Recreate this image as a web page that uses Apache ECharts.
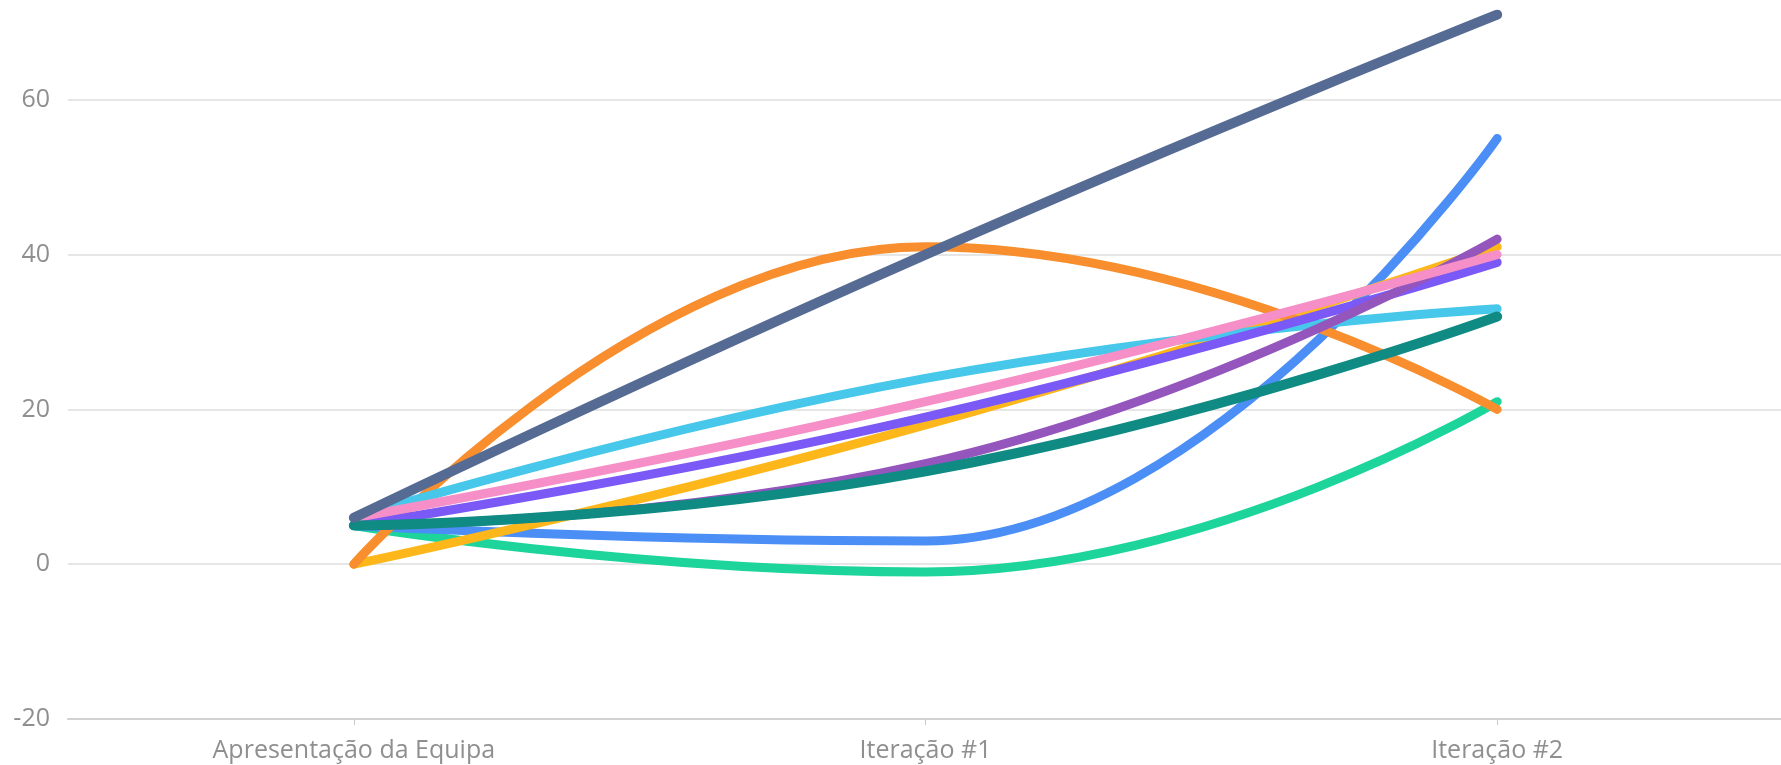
<!DOCTYPE html>
<html>
<head>
<meta charset="utf-8">
<script src="https://cdn.jsdelivr.net/npm/echarts@6/dist/echarts.min.js"></script>
<style>
  html, body { margin: 0; padding: 0; background: #ffffff; }
  #chart { width: 1781px; height: 765px; }
</style>
</head>
<body>
<div id="chart"></div>
<script>
// Eixo das categorias (etapas do projeto)
const categories = ['Apresentação da Equipa', 'Iteração #1', 'Iteração #2'];

// Escala do eixo Y
const yMin = -20;
const yMax = 80;
const yStep = 20;

// Valores de cada série, por etapa
const verde    = [5, -1, 21];
const azul     = [5, 3, 55];
const amarelo  = [0, 18, 41];
const laranja  = [0, 41, 20];
const ciano    = [6, 24, 33];
const violeta  = [5, 19, 39];
const roxo     = [5, 13, 42];
const rosa     = [6, 21, 40];
const petroleo = [5, 12, 32];
const ardosia  = [6, 40, 71];

const labelFont = '"Open Sans", "Noto Sans", sans-serif';

// Ordem de desenho: as últimas ficam por cima
const seriesDefs = [
  { name: 'Verde',    data: verde,    color: '#1dd59b', width: 9, monotone: true },
  { name: 'Azul',     data: azul,     color: '#4a8ef6', width: 9, monotone: true },
  { name: 'Amarelo',  data: amarelo,  color: '#fdb71a', width: 9 },
  { name: 'Laranja',  data: laranja,  color: '#f88e2e', width: 9, monotone: true },
  { name: 'Ciano',    data: ciano,    color: '#47c8ea', width: 9 },
  { name: 'Violeta',  data: violeta,  color: '#7b59f7', width: 9 },
  { name: 'Roxo',     data: roxo,     color: '#9455bd', width: 9 },
  { name: 'Rosa',     data: rosa,     color: '#f68fc8', width: 9 },
  { name: 'Petróleo', data: petroleo, color: '#0f8b84', width: 10 },
  { name: 'Ardósia',  data: ardosia,  color: '#566b93', width: 10 }
];

const chart = echarts.init(document.getElementById('chart'), null, { renderer: 'canvas' });

chart.setOption({
  backgroundColor: '#ffffff',
  animation: false,
  grid: {
    left: 68, right: -2, top: -55, bottom: 46,
    containLabel: false,
    outerBoundsMode: 'none'
  },
  xAxis: {
    type: 'category',
    data: categories,
    boundaryGap: true,
    axisLine: { show: true, onZero: false, lineStyle: { color: '#d2d2d2', width: 2 } },
    axisTick: { show: true, alignWithLabel: true, length: 6, lineStyle: { color: '#c8c8c8', width: 1 } },
    axisLabel: { color: '#8f8f8f', fontSize: 25, fontFamily: labelFont, margin: 19 },
    splitLine: { show: false }
  },
  yAxis: {
    type: 'value',
    min: yMin,
    max: yMax,
    interval: yStep,
    axisLine: { show: false },
    axisTick: { show: false },
    axisLabel: { color: '#8f8f8f', fontSize: 25, fontFamily: labelFont, margin: 18 },
    splitLine: { show: true, lineStyle: { color: '#e6e6e6', width: 2 } }
  },
  series: seriesDefs.map(function (s) {
    return {
      name: s.name,
      type: 'line',
      data: s.data,
      smooth: 0.5,
      smoothMonotone: s.monotone ? 'x' : undefined,
      showSymbol: false,
      symbol: 'none',
      lineStyle: { color: s.color, width: s.width, cap: 'round', join: 'round' },
      itemStyle: { color: s.color },
      emphasis: { disabled: true }
    };
  })
});
</script>
</body>
</html>
